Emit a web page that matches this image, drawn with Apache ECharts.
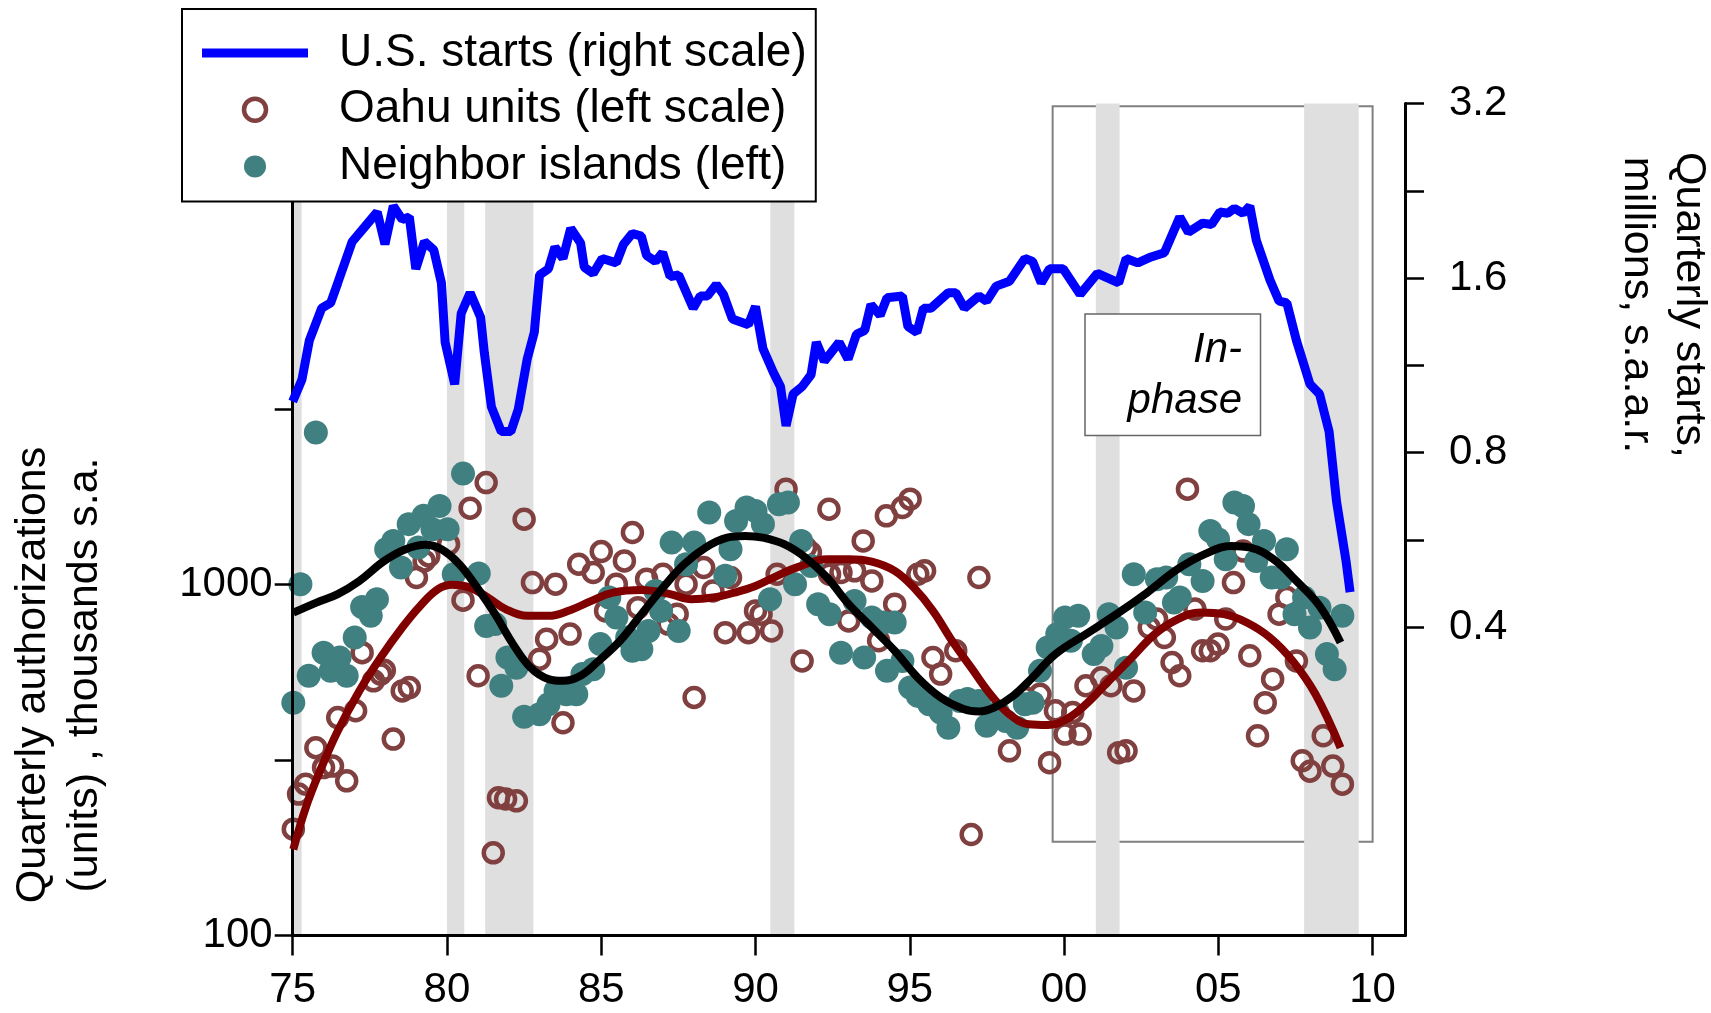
<!DOCTYPE html>
<html><head><meta charset="utf-8">
<script src="https://cdn.jsdelivr.net/npm/echarts@6.0.0/dist/echarts.min.js"></script>
<style>html,body{margin:0;padding:0;background:#fff}#c{width:1711px;height:1013px}</style>
</head><body><div id="c"></div>
<script>
const FONT = "'Liberation Sans', Arial, Helvetica, sans-serif";

const xTicks = [1975, 1980, 1985, 1990, 1995, 2000, 2005, 2010];
const leftTicks = [100, 316.23, 1000, 3162.3];
const leftLabels = [100, 1000];
const rightTicks = [0.4, 0.5657, 0.8, 1.1314, 1.6, 2.2627, 3.2];
const rightLabels = [0.4, 0.8, 1.6, 3.2];

const recessions = [[1975.0,1975.29],[1980.0,1980.56],[1981.24,1982.8],[1990.48,1991.26],[2001.03,2001.8],[2007.78,2009.55]];
const inPhaseYears = [1999.63, 2010.0];
const inPhaseLevels = [185, 23120];

const usStarts = [[1975.00,0.98],[1975.30,1.07],[1975.54,1.25],[1975.94,1.42],[1976.23,1.45],[1976.46,1.57],[1976.93,1.85],[1977.33,1.96],[1977.74,2.08],[1977.99,1.83],[1978.26,2.13],[1978.55,2.02],[1978.78,2.04],[1978.99,1.66],[1979.27,1.85],[1979.57,1.79],[1979.82,1.57],[1979.94,1.24],[1980.25,1.05],[1980.46,1.39],[1980.75,1.51],[1981.09,1.37],[1981.21,1.19],[1981.44,0.96],[1981.76,0.87],[1982.07,0.87],[1982.31,0.95],[1982.60,1.16],[1982.83,1.29],[1983.00,1.62],[1983.29,1.66],[1983.50,1.81],[1983.76,1.73],[1984.01,1.95],[1984.33,1.84],[1984.45,1.67],[1984.74,1.63],[1985.03,1.73],[1985.49,1.70],[1985.72,1.83],[1986.01,1.91],[1986.30,1.89],[1986.47,1.75],[1986.76,1.71],[1986.99,1.77],[1987.23,1.61],[1987.51,1.62],[1987.98,1.42],[1988.21,1.49],[1988.44,1.49],[1988.73,1.56],[1988.96,1.50],[1989.25,1.36],[1989.77,1.33],[1990.00,1.43],[1990.24,1.21],[1990.58,1.10],[1990.81,1.04],[1990.99,0.89],[1991.22,1.01],[1991.51,1.04],[1991.80,1.09],[1991.97,1.24],[1992.23,1.15],[1992.71,1.24],[1993.00,1.16],[1993.27,1.28],[1993.54,1.30],[1993.74,1.44],[1994.04,1.38],[1994.26,1.48],[1994.76,1.49],[1994.94,1.32],[1995.23,1.29],[1995.44,1.42],[1995.69,1.42],[1996.25,1.51],[1996.49,1.51],[1996.77,1.42],[1997.24,1.49],[1997.49,1.46],[1997.80,1.55],[1998.23,1.58],[1998.73,1.73],[1998.98,1.71],[1999.26,1.57],[1999.53,1.66],[1999.97,1.66],[2000.52,1.50],[2001.08,1.63],[2001.77,1.57],[2002.01,1.73],[2002.39,1.70],[2002.82,1.74],[2003.25,1.77],[2003.75,2.04],[2004.03,1.92],[2004.49,1.99],[2004.78,1.98],[2005.05,2.08],[2005.30,2.07],[2005.52,2.11],[2005.80,2.07],[2006.02,2.13],[2006.23,1.86],[2006.67,1.59],[2006.97,1.46],[2007.22,1.45],[2007.53,1.25],[2007.97,1.05],[2008.28,1.01],[2008.59,0.87],[2008.83,0.66],[2009.14,0.52],[2009.27,0.46]];

const oahuUnits = [[1975.02,201],[1975.19,253],[1975.42,270],[1975.75,343],[1976.00,301],[1976.29,304],[1976.46,418],[1976.75,276],[1977.04,437],[1977.25,640],[1977.62,532],[1977.85,556],[1977.97,570],[1978.26,363],[1978.55,498],[1978.78,509],[1979.01,1048],[1979.26,1169],[1979.41,1208],[1980.05,1305],[1980.52,903],[1980.75,1652],[1981.01,550],[1981.27,1954],[1981.50,172],[1981.67,247],[1981.90,245],[1982.25,242],[1982.50,1537],[1982.77,1014],[1983.00,613],[1983.23,699],[1983.52,1003],[1983.76,404],[1983.99,723],[1984.27,1144],[1984.74,1083],[1985.00,1243],[1985.14,842],[1985.49,1003],[1985.75,1169],[1986.01,1408],[1986.19,860],[1986.47,1037],[1987.00,1071],[1987.17,772],[1987.46,824],[1987.75,1003],[1988.01,477],[1988.32,1119],[1988.62,960],[1989.02,730],[1989.19,1048],[1989.77,730],[1990.00,842],[1990.18,824],[1990.52,738],[1990.70,1071],[1990.99,1872],[1991.51,606],[1991.62,1276],[1991.78,1235],[1992.38,1641],[1992.40,1071],[1992.77,1083],[1993.02,788],[1993.21,1095],[1993.49,1333],[1993.77,1025],[1993.99,692],[1994.24,1571],[1994.51,880],[1994.76,1659],[1995.01,1753],[1995.26,1071],[1995.48,1095],[1995.75,620],[1996.00,556],[1996.49,648],[1996.99,194],[1997.24,1048],[1998.23,336],[1998.73,477],[1999.22,487],[1999.53,311],[1999.72,437],[2000.03,375],[2000.28,432],[2000.52,375],[2000.71,515],[2001.21,543],[2001.52,515],[2001.77,332],[2002.01,336],[2002.26,498],[2002.76,755],[2003.00,798],[2003.25,707],[2003.50,600],[2003.75,550],[2004.00,1872],[2004.24,852],[2004.49,648],[2004.74,648],[2004.99,677],[2005.24,798],[2005.49,1014],[2005.80,1248],[2006.02,627],[2006.27,371],[2006.52,461],[2006.76,538],[2006.97,824],[2007.22,919],[2007.53,606],[2007.72,315],[2007.97,294],[2008.40,371],[2008.71,304],[2009.02,270]];

const neighborUnits = [[1975.02,461],[1975.25,1003],[1975.52,550],[1975.75,2714],[1976.00,640],[1976.23,568],[1976.52,620],[1976.75,550],[1977.01,707],[1977.25,864],[1977.53,815],[1977.73,909],[1978.03,1262],[1978.26,1333],[1978.51,1119],[1978.76,1488],[1979.07,1276],[1979.24,1571],[1979.53,1439],[1979.76,1677],[1980.02,1439],[1980.22,1071],[1980.52,2073],[1981.03,1076],[1981.27,763],[1981.56,772],[1981.76,515],[1981.96,620],[1982.25,580],[1982.50,420],[1983.00,427],[1983.29,456],[1983.52,498],[1983.87,487],[1984.19,487],[1984.39,556],[1984.74,574],[1984.97,677],[1985.26,919],[1985.49,806],[1985.84,707],[1986.01,648],[1986.30,655],[1986.53,738],[1986.76,960],[1986.94,842],[1987.28,1318],[1987.51,738],[1987.75,1144],[1988.01,1318],[1988.50,1605],[1989.02,1060],[1989.19,1262],[1989.37,1520],[1989.71,1659],[1990.00,1623],[1990.24,1488],[1990.47,909],[1990.76,1696],[1991.05,1714],[1991.28,1003],[1991.48,1333],[1991.80,1131],[1992.03,880],[1992.40,824],[1992.77,640],[1993.21,899],[1993.52,620],[1993.77,806],[1994.14,780],[1994.26,568],[1994.51,780],[1994.76,606],[1995.01,509],[1995.26,482],[1995.63,456],[1996.00,432],[1996.25,391],[1996.62,466],[1996.87,472],[1997.24,466],[1997.49,396],[1997.86,432],[1998.11,409],[1998.48,391],[1998.73,456],[1998.98,461],[1999.22,568],[1999.47,662],[1999.78,723],[2000.03,806],[2000.22,692],[2000.46,815],[2000.96,634],[2001.21,669],[2001.45,824],[2001.70,755],[2002.01,580],[2002.26,1071],[2002.63,833],[2003.01,1037],[2003.31,1048],[2003.56,889],[2003.75,919],[2004.06,1144],[2004.49,1025],[2004.74,1423],[2004.99,1348],[2005.24,1182],[2005.52,1714],[2005.80,1677],[2005.98,1488],[2006.23,1169],[2006.48,1333],[2006.73,1048],[2007.03,1048],[2007.22,1262],[2007.47,824],[2007.78,919],[2007.97,755],[2008.28,860],[2008.52,634],[2008.77,574],[2009.02,815]];

const oahuTrend = [[1975.02,176],[1975.42,231],[1975.88,294],[1976.46,383],[1977.16,498],[1977.85,620],[1978.55,755],[1979.13,870],[1979.71,971],[1980.17,999],[1980.75,981],[1981.33,919],[1981.90,852],[1982.60,815],[1983.29,815],[1983.99,846],[1984.68,899],[1985.38,949],[1986.30,965],[1987.23,940],[1987.92,909],[1988.62,919],[1989.31,949],[1990.00,992],[1990.70,1060],[1991.39,1124],[1992.32,1182],[1993.02,1182],[1993.77,1164],[1994.51,1095],[1995.13,981],[1995.75,842],[1996.37,692],[1996.99,580],[1997.61,487],[1998.23,427],[1998.85,400],[1999.47,398],[2000.09,414],[2000.71,456],[2001.45,532],[2002.20,620],[2002.94,723],[2003.69,798],[2004.43,833],[2005.18,824],[2005.92,780],[2006.67,707],[2007.41,606],[2008.15,487],[2008.96,343]];

const neighborTrend = [[1975.02,832],[1975.77,889],[1976.46,940],[1977.16,1025],[1977.97,1169],[1978.66,1262],[1979.30,1299],[1979.82,1262],[1980.40,1144],[1980.98,981],[1981.56,824],[1982.14,677],[1982.71,580],[1983.29,538],[1983.76,532],[1984.33,550],[1984.91,606],[1985.61,692],[1986.30,824],[1987.00,981],[1987.69,1144],[1988.38,1276],[1989.08,1362],[1989.66,1377],[1990.24,1362],[1990.93,1305],[1991.62,1195],[1992.32,1048],[1993.02,880],[1993.77,755],[1994.51,648],[1995.26,543],[1996.00,477],[1996.74,442],[1997.24,435],[1997.73,446],[1998.35,482],[1998.97,543],[1999.72,634],[2000.71,723],[2001.70,824],[2002.69,949],[2003.68,1107],[2004.56,1222],[2005.42,1290],[2006.04,1276],[2006.79,1182],[2007.53,1025],[2008.28,870],[2008.96,684]];

const NAME_US = 'U.S. starts (right scale)';
const NAME_OAHU = 'Oahu units (left scale)';
const NAME_NEIGH = 'Neighbor islands (left)';

const chart = echarts.init(document.getElementById('c'), null, {renderer: 'canvas'});

const axisCommon = {
  axisLine: {show: true, onZero: false, lineStyle: {color: '#000', width: 3}},
  splitLine: {show: false},
  minorTick: {show: false},
  minorSplitLine: {show: false}
};

chart.setOption({
  animation: false,
  backgroundColor: '#fff',
  textStyle: {fontFamily: FONT},
  grid: {left: 292.7, right: 306, top: 103.5, bottom: 77.5, containLabel: false, outerBoundsMode: 'none'},
  xAxis: Object.assign({
    type: 'value', min: 1975, max: 2011.05, z: 3,
    axisTick: {show: true, length: 20, customValues: xTicks, lineStyle: {color: '#000', width: 2.5}},
    axisLabel: {customValues: xTicks, formatter: v => String(Math.round(v)).slice(2), fontSize: 42, color: '#000', margin: 34, fontFamily: FONT}
  }, axisCommon),
  yAxis: [
    Object.assign({
      type: 'log', logBase: 10, min: 100, max: 23530, position: 'left', z: 3,
      axisTick: {show: true, length: 18, customValues: leftTicks, lineStyle: {color: '#000', width: 2.5}},
      axisLabel: {customValues: leftLabels, formatter: v => String(Math.round(v)), fontSize: 42, color: '#000', margin: 20, fontFamily: FONT}
    }, axisCommon),
    Object.assign({
      type: 'log', logBase: 2, min: 0.1177, max: 3.2, position: 'right', z: 3,
      axisTick: {show: true, length: 19, customValues: rightTicks, lineStyle: {color: '#000', width: 2.5}},
      axisLabel: {customValues: rightLabels, formatter: v => Number(v).toFixed(1), fontSize: 42, color: '#000', margin: 44, fontFamily: FONT}
    }, axisCommon)
  ],
  legend: {
    orient: 'vertical', left: 182, top: 9, padding: [21, 9, 12, 20],
    itemWidth: 106, itemHeight: 22, itemGap: 10.7,
    backgroundColor: '#fff', borderColor: '#000', borderWidth: 2, borderRadius: 0,
    z: 10, selectedMode: false,
    textStyle: {fontSize: 46, color: '#000', fontFamily: FONT, lineHeight: 46, padding: [0, 0, 0, 26]},
    data: [
      {name: NAME_US, icon: 'path://M0,0H106V9H0Z', itemStyle: {color: '#0000ff', borderWidth: 0}},
      {name: NAME_OAHU, icon: 'circle', itemStyle: {color: '#ffffff', borderColor: '#804040', borderWidth: 4.5}},
      {name: NAME_NEIGH, icon: 'circle', itemStyle: {color: '#408080', borderWidth: 0}}
    ]
  },
  graphic: [
    {type: 'text', x: 59, y: 675, rotation: Math.PI / 2, z: 10,
     style: {text: 'Quarterly authorizations\n(units) , thousands s.a.', font: '43px ' + FONT, fill: '#000',
             align: 'center', verticalAlign: 'middle', textAlign: 'center', textVerticalAlign: 'middle', lineHeight: 52}},
    {type: 'text', x: 1663, y: 305, rotation: -Math.PI / 2, z: 10,
     style: {text: 'Quarterly starts,\nmillions, s.a.a.r.', font: '43px ' + FONT, fill: '#000',
             align: 'center', verticalAlign: 'middle', textAlign: 'center', textVerticalAlign: 'middle', lineHeight: 52}},
    {type: 'rect', z: 5, shape: {x: 1085, y: 314, width: 175.5, height: 121.5},
     style: {fill: '#fff', stroke: '#666', lineWidth: 1.5}},
    {type: 'text', x: 1242, y: 350, z: 6,
     style: {text: 'In-', font: 'italic 42px ' + FONT, fill: '#000', align: 'right', verticalAlign: 'middle', textAlign: 'right', textVerticalAlign: 'middle'}},
    {type: 'text', x: 1242, y: 401, z: 6,
     style: {text: 'phase', font: 'italic 42px ' + FONT, fill: '#000', align: 'right', verticalAlign: 'middle', textAlign: 'right', textVerticalAlign: 'middle'}}
  ],
  series: [
    {name: 'in-phase period', type: 'line', data: [], yAxisIndex: 0, silent: true,
     markArea: {silent: true, label: {show: false}, emphasis: {disabled: true},
       itemStyle: {color: 'rgba(0,0,0,0)', borderColor: '#808080', borderWidth: 2},
       data: [[{xAxis: inPhaseYears[0], yAxis: inPhaseLevels[1]}, {xAxis: inPhaseYears[1], yAxis: inPhaseLevels[0]}]]}},
    {name: 'recessions', type: 'line', data: [], yAxisIndex: 0, silent: true,
     markArea: {silent: true, label: {show: false}, emphasis: {disabled: true},
       itemStyle: {color: '#dfdfdf', borderWidth: 0},
       data: recessions.map(r => [{xAxis: r[0]}, {xAxis: r[1]}])}},
    {name: NAME_OAHU, type: 'scatter', yAxisIndex: 0, data: oahuUnits, symbol: 'circle', symbolSize: 19, silent: true,
     itemStyle: {color: 'rgba(255,255,255,0)', borderColor: '#804040', borderWidth: 4.5, opacity: 1}},
    {name: NAME_NEIGH, type: 'scatter', yAxisIndex: 0, data: neighborUnits, symbol: 'circle', symbolSize: 24, silent: true,
     itemStyle: {color: '#408080', opacity: 1}},
    {name: 'Oahu trend', type: 'line', yAxisIndex: 0, data: oahuTrend, smooth: 0.4, showSymbol: false, symbol: 'none', silent: true,
     lineStyle: {color: '#800000', width: 8}, itemStyle: {color: '#800000'}},
    {name: 'Neighbor trend', type: 'line', yAxisIndex: 0, data: neighborTrend, smooth: 0.4, showSymbol: false, symbol: 'none', silent: true,
     lineStyle: {color: '#000000', width: 8}, itemStyle: {color: '#000000'}},
    {name: NAME_US, type: 'line', yAxisIndex: 1, data: usStarts, showSymbol: false, symbol: 'none', silent: true,
     lineStyle: {color: '#0000ff', width: 9}, itemStyle: {color: '#0000ff'}}
  ]
});
</script>
</body></html>
